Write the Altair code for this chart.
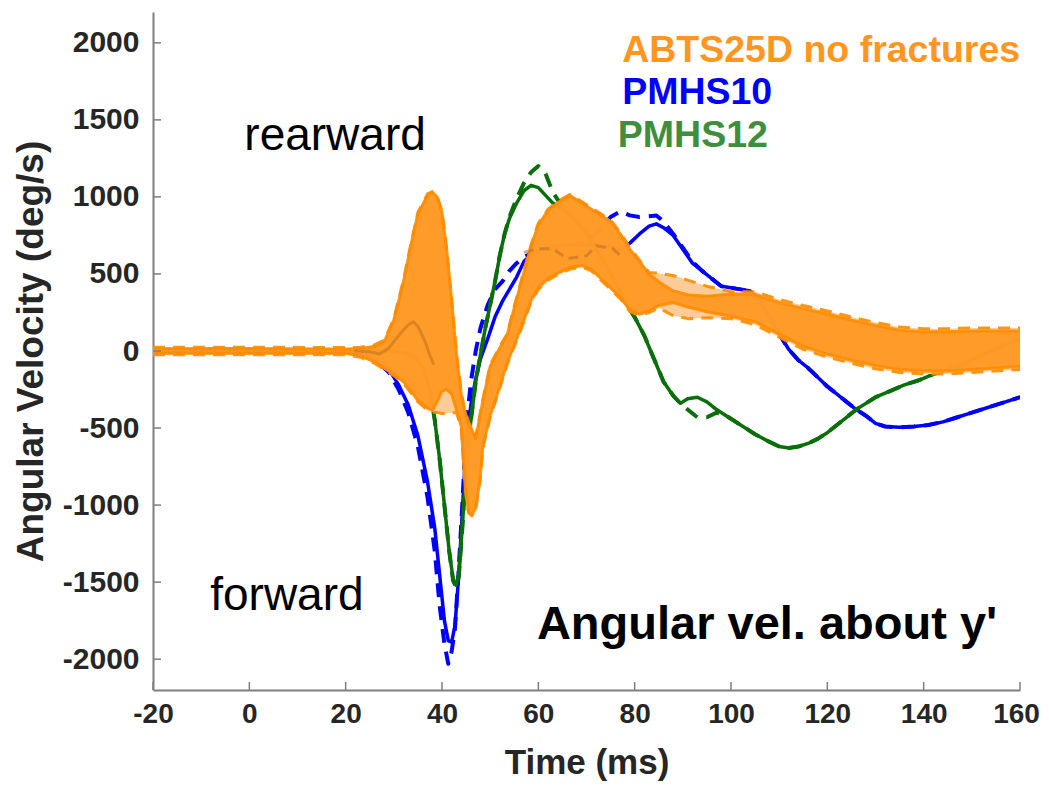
import altair as alt
import pandas as pd

# ---------------- data ----------------
x_ticks = [-20, 0, 20, 40, 60, 80, 100, 120, 140, 160]
y_ticks = [-2000, -1500, -1000, -500, 0, 500, 1000, 1500, 2000]

# ABTS25D corridor (main band)
band_t = [-20, 0, 20, 23, 26, 28, 30, 32, 33.5, 35, 37, 38, 39, 40, 41, 42, 43, 44, 44.5, 45,
          45.5, 46.2, 47, 47.9, 48.5, 50, 52, 53.5, 55, 57, 58.5, 60, 62, 64, 66.5, 69, 71, 73,
          75, 77, 79, 81, 83, 85, 88, 91, 95, 100, 105, 110, 115, 120, 125, 130, 135, 140, 145,
          150, 155, 160]
band_upper = [15, 15, 12, 15, 30, 60, 200, 450, 680, 890, 1010, 1030, 1000, 900, 650, 330, -20,
              -280, -360, -420, -470, -510, -570, -420, -320, -100, 20, 100, 280, 510, 680, 820,
              910, 960, 1010, 960, 920, 880, 840, 760, 660, 580, 500, 450, 390, 365, 355, 370,
              365, 315, 275, 240, 200, 165, 135, 125, 125, 130, 130, 130]
band_lower = [-15, -15, -15, -30, -70, -110, -150, -200, -260, -320, -370, -385, -330, -260, -250,
              -280, -380, -490, -740, -930, -1040, -1060, -1020, -832, -618, -420, -230, -80, 40,
              200, 330, 410, 470, 505, 540, 555, 530, 470, 410, 350, 265, 240, 260, 295, 315, 285,
              255, 225, 190, 110, 30, -20, -60, -95, -120, -130, -130, -120, -110, -100]
# lighter outer envelope (dashed runs)
light_upper = [25, 25, 22, 25, 40, 70, 210, 460, 690, 900, 1020, 1035, 1005, 905, 655, 335, -15,
               -270, -350, -410, -460, -500, -560, -410, -310, -90, 30, 110, 290, 520, 690, 830,
               920, 970, 1015, 970, 930, 890, 850, 770, 670, 590, 510, 505, 490, 460, 420, 385,
               385, 335, 295, 260, 220, 185, 155, 145, 145, 150, 150, 150]
light_lower = [-25, -25, -25, -40, -80, -120, -160, -210, -270, -330, -385, -395, -400, -405, -405,
               -400, -400, -500, -750, -940, -1050, -1070, -1030, -842, -628, -430, -240, -90, 30,
               190, 320, 400, 460, 495, 530, 545, 520, 460, 400, 340, 255, 230, 250, 280, 230, 210,
               215, 210, 170, 90, 10, -40, -80, -115, -140, -150, -150, -140, -130, -120]

# darker individual ABTS runs seen inside the corridor
inner1_t = [22, 25, 27, 29, 31, 33, 34, 35, 36.5, 37.5, 38.2]
inner1_v = [0, -5, -20, 20, 100, 170, 190, 160, 60, -30, -80]
inner2_t = [57, 59.7, 63, 66, 70, 72, 75.5, 77]
inner2_v = [640, 663, 663, 600, 618, 683, 663, 620]

# PMHS10 (blue)
p10_t = [-20, -10, -5, 0, 5, 10, 15, 20, 24, 27, 29, 31, 33, 35, 37, 38.5, 39.5, 40.5, 41.3, 42,
         42.7, 43.5, 44.3, 45, 46, 47, 48, 49.5, 51, 52.5, 54, 55.5, 57, 59, 61, 63, 66, 69, 72,
         75, 77, 79, 81, 83, 84.5, 86, 88, 90, 92, 94, 96, 98, 100, 102, 104, 106, 108, 110, 112,
         114, 116, 118, 120, 122, 124, 126, 128, 130, 132, 135, 138, 141, 144, 147, 150, 153,
         156, 160]
p10_solid = [5, 10, 15, 5, 10, 0, 5, -5, -20, -60, -120, -220, -350, -550, -850, -1150, -1450,
             -1750, -1880, -1890, -1780, -1450, -1000, -600, -350, -180, -50, 80, 220, 320, 400,
             480, 580, 640, 660, 680, 690, 690, 690, 680, 660, 700, 760, 810, 825, 800, 750, 660,
             570, 520, 470, 420, 410, 400, 390, 330, 220, 110, 10, -60, -110, -170, -230, -280,
             -330, -380, -420, -470, -490, -495, -490, -480, -460, -430, -400, -370, -340, -300]
p10_dash = [0, 5, 10, 10, 5, 0, 0, -10, -30, -80, -140, -250, -400, -620, -950, -1300, -1650,
            -1900, -2030, -1950, -1800, -1400, -950, -500, -200, 0, 150, 300, 400, 450, 520, 570,
            610, 640, 660, 670, 680, 700, 760, 870, 905, 880, 870, 875, 880, 840, 760, 670, 580,
            520, 470, 420, 410, 400, 390, 330, 220, 110, 10, -60, -110, -170, -230, -280, -330,
            -380, -420, -470, -490, -495, -490, -480, -460, -430, -400, -370, -340, -300]

# PMHS12 (green)
p12_t = [-20, 0, 10, 20, 28, 32, 34, 36, 37.5, 38.5, 39.5, 40.5, 41.5, 42.3, 42.9, 43.5, 44.2, 45,
         46, 47, 48, 49, 50, 51, 52, 53, 54, 55.5, 57, 58.5, 60, 61.5, 63, 64.5, 66, 68, 70, 72,
         74, 76, 78, 80, 82, 84, 86, 88, 89.5, 91, 93, 95, 97, 99, 102, 105, 108, 110, 112, 114,
         116, 118, 120, 122, 124, 126, 128, 130, 133, 136, 139, 142, 145, 148, 151, 154, 157, 160]
p12_solid = [0, 0, 5, 0, 0, -10, -30, -100, -250, -450, -700, -1000, -1300, -1480, -1520, -1450,
             -1150, -750, -450, -200, -20, 150, 300, 450, 620, 760, 860, 960, 1040, 1075, 1060,
             1010, 960, 930, 900, 840, 760, 660, 560, 450, 320, 220, 100, -50, -200, -290, -340,
             -310, -300, -330, -380, -420, -480, -540, -590, -620, -630, -620, -600, -570, -530,
             -480, -430, -380, -340, -300, -260, -220, -190, -150, -120, -90, -40, 0, 40, 75]
p12_dash = [0, 0, 5, 0, 0, -10, -30, -100, -250, -450, -700, -1000, -1300, -1490, -1530, -1460,
            -1160, -760, -450, -200, -20, 150, 300, 450, 620, 760, 870, 990, 1090, 1160, 1200,
            1150, 1030, 960, 900, 840, 760, 660, 560, 450, 320, 220, 100, -50, -200, -290, -340,
            -380, -430, -430, -400, -420, -480, -540, -590, -620, -630, -620, -600, -570, -530,
            -480, -430, -380, -340, -300, -260, -220, -190, -150, -120, -90, -40, 0, 40, 75]

legend_labels = ["ABTS25D no fractures", "PMHS10", "PMHS12"]
legend_t = [77.4, 77.4, 76.5]
legend_v = [1950, 1672, 1398]
legend_colors = ["#FF961F", "#0000FF", "#3E8E3E"]

note_labels = ["rearward", "forward"]
note_t = [17.8, 7.8]
note_v = [1398, -1593]
title_label = ["Angular vel. about y'"]
title_t = [59.7]
title_v = [-1776]

# ---------------- styling ----------------
FONT = "Liberation Sans"
W, H = 867, 678
ORANGE = "#FF9214"
ORANGE_EDGE = "#FF8C00"
LIGHT = "#FFC68C"
BLUE = "#0000FF"
GREEN = "#0A6E0A"
AXIS_GREY = "#7f7f7f"
TEXT = "#262626"

xscale = alt.Scale(domain=[-20, 160], nice=False, zero=False)
yscale = alt.Scale(domain=[-2200, 2200], nice=False, zero=False)

xaxis = alt.Axis(values=x_ticks, title="Time (ms)", ticks=False, grid=False,
                 labelExpr="'' + datum.value",
                 labelOffset={"condition": {"test": "datum.value === 160", "value": -4},
                              "value": 0},
                 domainColor=AXIS_GREY, domainWidth=2, labelFont=FONT, labelFontSize=28,
                 labelFontWeight="bold", labelColor=TEXT, labelPadding=10, labelFlush=False,
                 labelOverlap=False, titleFont=FONT, titleFontSize=35, titleFontWeight="bold",
                 titleColor=TEXT, titlePadding=17)
yaxis = alt.Axis(values=y_ticks, title="Angular Velocity (deg/s)", ticks=False, grid=False,
                 labelExpr="'' + datum.value",
                 domainColor=AXIS_GREY, domainWidth=2, labelFont=FONT, labelFontSize=30,
                 labelFontWeight="bold", labelColor=TEXT, labelPadding=14, labelFlush=False,
                 labelOverlap=False, titleFont=FONT, titleFontSize=37, titleFontWeight="bold",
                 titleColor=TEXT, titlePadding=12, titleLimit=600)


def X(field="t"):
    return alt.X(f"{field}:Q", scale=xscale, axis=xaxis)


def Y(field="v"):
    return alt.Y(f"{field}:Q", scale=yscale, axis=yaxis)


def line(t, v, color, width=3.5, dash=None, opacity=1.0):
    df = pd.DataFrame({"t": t, "v": v})
    kw = dict(color=color, strokeWidth=width, opacity=opacity, strokeJoin="round",
              strokeCap="round", clip=True)
    if dash is not None:
        kw["strokeDash"] = dash
        kw["strokeCap"] = "butt"
    return alt.Chart(df).mark_line(**kw).encode(x=X(), y=Y())


def area(t, lo, hi, color, opacity):
    df = pd.DataFrame({"t": t, "lo": lo, "hi": hi})
    return alt.Chart(df).mark_area(color=color, opacity=opacity).encode(
        x=X(), y=Y("hi"), y2=alt.Y2("lo"))


layers = []
# PMHS traces beneath the corridor
layers.append(line(p10_t, p10_dash, BLUE, 4, dash=[14, 9]))
layers.append(line(p10_t, p10_solid, BLUE, 3.5))
layers.append(line(p12_t, p12_dash, GREEN, 4, dash=[14, 9]))
layers.append(line(p12_t, p12_solid, GREEN, 3.5))
# corridor
layers.append(area(band_t, light_lower, light_upper, LIGHT, 0.9))
layers.append(area(band_t, band_lower, band_upper, ORANGE, 0.85))
layers.append(line(band_t, light_upper, ORANGE_EDGE, 3, dash=[12, 8], opacity=0.9))
layers.append(line(band_t, light_lower, ORANGE_EDGE, 3, dash=[12, 8], opacity=0.9))
layers.append(line(band_t, band_upper, ORANGE_EDGE, 3, opacity=0.9))
layers.append(line(band_t, band_lower, ORANGE_EDGE, 3, opacity=0.9))
layers.append(line(inner1_t, inner1_v, "#D27C1E", 3, opacity=0.75))
layers.append(line(inner2_t, inner2_v, "#C0702A", 3, dash=[10, 6], opacity=0.6))

# inward ticks
xt = pd.DataFrame({"t": x_ticks})
layers.append(alt.Chart(xt).mark_rule(color=AXIS_GREY, strokeWidth=1.5).encode(
    x=X(), y=alt.value(H), y2=alt.value(H - 8)))
yt = pd.DataFrame({"v": y_ticks})
layers.append(alt.Chart(yt).mark_rule(color=AXIS_GREY, strokeWidth=1.5).encode(
    y=Y(), x=alt.value(0), x2=alt.value(8)))

# legend texts
leg = pd.DataFrame({"t": legend_t, "v": legend_v, "label": legend_labels, "c": legend_colors})
layers.append(alt.Chart(leg).mark_text(font=FONT, fontSize=37.5, fontWeight="bold", align="left",
                                       baseline="middle").encode(
    x=X(), y=Y(), text="label:N", color=alt.Color("c:N", scale=None)))

notes = pd.DataFrame({"t": note_t, "v": note_v, "label": note_labels})
layers.append(alt.Chart(notes).mark_text(font=FONT, fontSize=46, align="center",
                                         baseline="middle", color="#000000").encode(
    x=X(), y=Y(), text="label:N"))

ttl = pd.DataFrame({"t": title_t, "v": title_v, "label": title_label})
layers.append(alt.Chart(ttl).mark_text(font=FONT, fontSize=47, fontWeight="bold", align="left",
                                       baseline="middle", color="#000000").encode(
    x=X(), y=Y(), text="label:N"))

chart = alt.layer(*layers).properties(
    width=W, height=H,
    padding={"left": 145, "top": 4, "right": 21, "bottom": 91},
    autosize=alt.AutoSizeParams(type="none"),
    background="white",
).configure_view(stroke=None)

chart.save("out.html", embed_options={"renderer": "svg", "actions": False})
